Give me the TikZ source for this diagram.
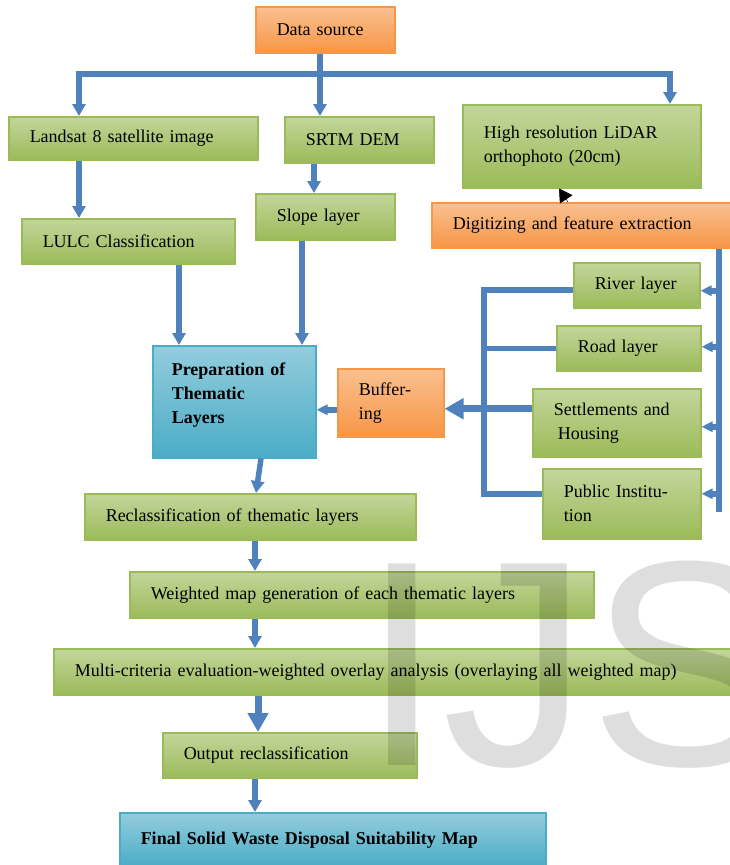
\documentclass[tikz,border=0pt]{standalone}
\usepackage{fontspec}
\setmainfont{Liberation Serif}
\newfontfamily\markfont{Liberation Sans}
\usepackage{tikz}
\usetikzlibrary{arrows.meta, positioning}
\definecolor{grT}{HTML}{C3D69B}
\definecolor{grB}{HTML}{9BBB59}
\definecolor{grD}{HTML}{9BBB59}
\definecolor{orT}{HTML}{FAC090}
\definecolor{orB}{HTML}{F79646}
\definecolor{orD}{HTML}{F79646}
\definecolor{blT}{HTML}{93CDDD}
\definecolor{blB}{HTML}{4BACC6}
\definecolor{blD}{HTML}{4BACC6}
\definecolor{flowblue}{HTML}{4F81BD}

\begin{document}
\begin{tikzpicture}[x=1pt, y=-1pt,
        box/.style={anchor=north west, line width=1.5pt, inner xsep=21pt, inner ysep=0pt, align=left, font=\fontsize{18}{24}\selectfont},
        gbox/.style={box, draw=grD, top color=grT, bottom color=grB},
        obox/.style={box, draw=orD, top color=orT, bottom color=orB},
        bbox/.style={box, draw=blD, top color=blT, bottom color=blB, font=\fontsize{18}{24}\selectfont\bfseries},
        flow/.style={draw=flowblue, line width=5.5pt},
        arr/.style={flow, -{Triangle[width=13pt,length=12pt]}},
        arrS/.style={flow, -{Triangle[width=10pt,length=11pt]}},
        arrBig/.style={flow, line width=7pt, -{Triangle[width=20pt,length=19pt]}}]
    \useasboundingbox (0,0) rectangle (730,865);
    \clip (0,0) rectangle (730,865);

    \node[obox, text width=97pt, minimum height=46pt] (src) at (255,6) {Data source};
    \node[gbox, text width=207pt, minimum height=43pt] (landsat) at (8,116) {Landsat 8 satellite image};
    \node[gbox, text width=107pt, minimum height=46pt] (srtm) at (284,116) {SRTM DEM};
    \node[gbox, text width=196pt, minimum height=83pt] (lidar) at (462,104) {High resolution LiDAR\\orthophoto (20cm)};
    \node[gbox, text width=171pt, minimum height=45pt] (lulc) at (21,218) {LULC Classification};
    \node[gbox, text width=97pt, minimum height=46pt] (slope) at (255,193) {Slope layer};
    \node[obox, text width=268pt, minimum height=45pt] (digit) at (431,202) {Digitizing and feature extraction};
    \node[gbox, text width=84pt, minimum height=45pt] (river) at (573,262) {River layer};
    \node[gbox, text width=102pt, minimum height=45pt] (road) at (556,325) {Road layer};
    \node[gbox, text width=126pt, minimum height=68pt] (settle) at (532,388) {Settlements and\\\hspace*{4pt}Housing};
    \node[gbox, text width=116pt, minimum height=70pt] (public) at (542,468) {Public Institu-\\tion};
    \node[obox, text width=64pt, minimum height=68pt] (buffer) at (337,368) {Buffer-\\ing};
    \node[bbox, text width=125pt, inner xsep=19pt, text depth=66pt, minimum height=112pt] (prep) at (152,345) {Preparation of\\Thematic\\Layers};
    \node[gbox, text width=289pt, minimum height=46pt] (reclass) at (84,493) {Reclassification of thematic layers};
    \node[gbox, text width=422pt, minimum height=46pt] (weight) at (129,571) {Weighted map generation of each thematic layers};
    \node[gbox, text width=648pt, minimum height=46pt] (multi) at (53,648) {Multi-criteria evaluation-weighted overlay analysis (overlaying all weighted map)};
    \node[gbox, text width=212pt, minimum height=45pt] (output) at (162,732) {Output reclassification};
    \node[bbox, text width=384pt, minimum height=54pt] (final) at (119,812) {Final Solid Waste Disposal Suitability Map};

    \coordinate (split) at (320,74);
    \draw[flow] ([xshift=65pt]src.south west) -- (split);
    \draw[arr] (split) -| ([xshift=71pt]landsat.north west);
    \draw[arr] (split) -| ([xshift=208pt]lidar.north west);
    \draw[arr] (split) -- (split |- srtm.north);

    \draw[arr] ([xshift=71pt]landsat.south west) -- ([xshift=58pt]lulc.north west);
    \draw[arr] ([xshift=30pt]srtm.south west) -- ([xshift=59pt]slope.north west);
    \draw[arr] ([xshift=158pt]lulc.south west) -- ([xshift=27pt]prep.north west);
    \draw[arr] ([xshift=47pt]slope.south west) -- ([xshift=150pt]prep.north west);
    \draw[-{Triangle[width=15pt,length=13pt]}, line width=0.5pt] ([xshift=137pt]digit.north west) -- ([xshift=97pt]lidar.south west);

    \coordinate (railEnd) at (719,512);
    \draw[flow] ([xshift=288pt]digit.south west) -- (railEnd);
    \coordinate (riverIn) at ([yshift=-5.5pt]river.east);
    \coordinate (roadIn) at ([yshift=1.5pt]road.east);
    \coordinate (settleIn) at ([yshift=-4pt]settle.east);
    \coordinate (publicIn) at ([yshift=10pt]public.east);
    \draw[arrS] (riverIn -| railEnd) -- (riverIn);
    \draw[arrS] (roadIn -| railEnd) -- (roadIn);
    \draw[arrS] (settleIn -| railEnd) -- (settleIn);
    \draw[arrS] (publicIn -| railEnd) -- (publicIn);

    \coordinate (busTop) at (484,290);
    \coordinate (busBot) at (484,494);
    \draw[flow] (busTop -| river.west) -- (busTop) -- (busBot) -- (busBot -| public.west);
    \draw[flow] (road.west) -- (road.west -| busTop);
    \coordinate (settleOut) at ([yshift=14pt]settle.west);
    \draw[arrBig] (settleOut) -- (settleOut -| buffer.east);
    \coordinate (bufOut) at ([yshift=-7pt]buffer.west);
    \draw[arrS] (bufOut) -- (bufOut -| prep.east);

    \draw[arr] ([xshift=109pt]prep.south west) -- ([xshift=172pt]reclass.north west);
    \draw[arr] ([xshift=171pt]reclass.south west) -- ([xshift=126pt]weight.north west);
    \draw[arr] ([xshift=126pt]weight.south west) -- ([xshift=202pt]multi.north west);
    \draw[arrBig] ([xshift=205pt]multi.south west) -- ([xshift=96pt]output.north west);
    \draw[arr] ([xshift=93pt]output.south west) -- ([xshift=136pt]final.north west);

    \node[anchor=base west, inner sep=0pt, text=black, text opacity=0.13, font=\markfont\fontsize{293}{293}\selectfont] (ijs) at (361,765) {IJS};
\end{tikzpicture}
\end{document}
